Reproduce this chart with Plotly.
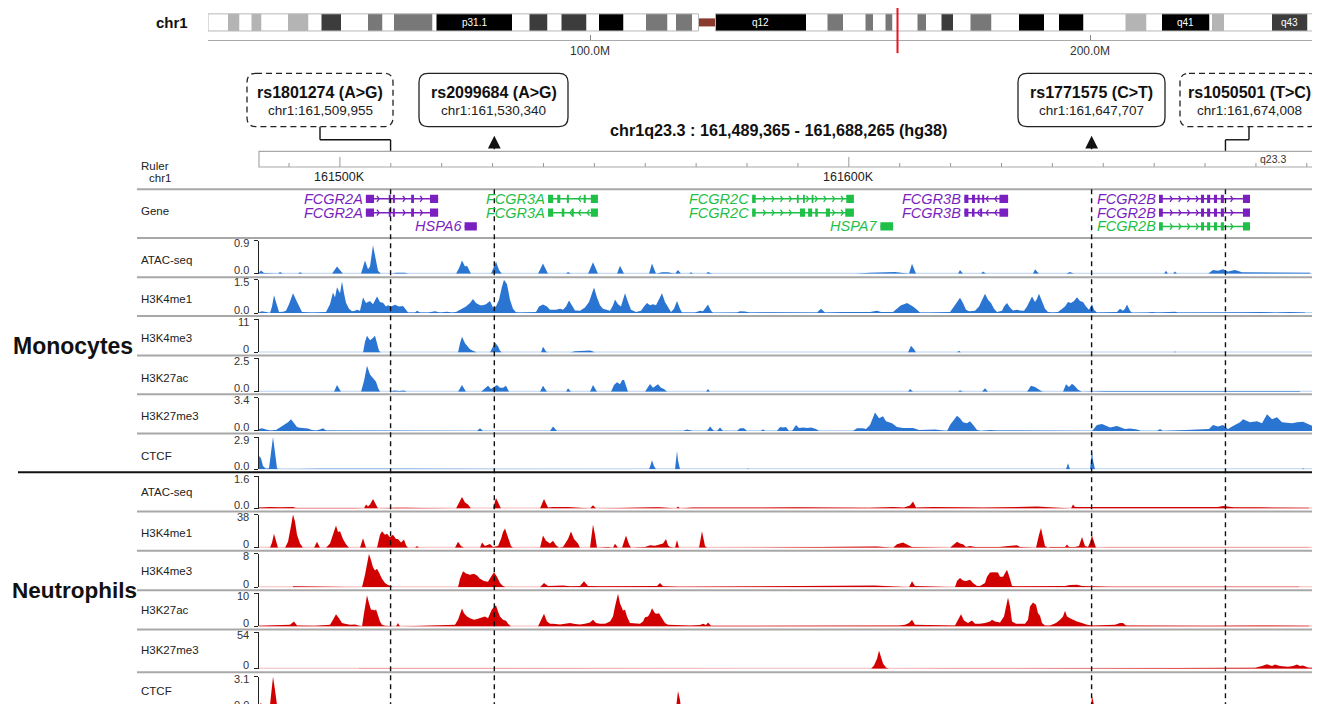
import plotly.graph_objects as go

W, H = 1320, 704
PAGE_OFF_X = 8                       # page offset of the figure (body margin)
PAGE_OFF_Y, PAGE_SY = 10.2, 0.9925   # vertical placement of the figure on the photographed page
FONT = "Liberation Sans, Arial, Helvetica, sans-serif"

# ============================ DATA ============================
# chr1 cytobands (hg38, Mb): name, start, end, stain
BANDS = [
    ("p36.11", 23.6, 27.6, "gneg"), ("p35.3", 27.6, 29.9, "gpos25"), ("p35.2", 29.9, 32.3, "gneg"),
    ("p35.1", 32.3, 34.3, "gpos25"), ("p34.3", 34.3, 39.6, "gneg"), ("p34.2", 39.6, 43.7, "gpos25"),
    ("p34.1", 43.7, 46.3, "gneg"), ("p33", 46.3, 50.2, "gpos75"), ("p32.3", 50.2, 55.6, "gneg"),
    ("p32.2", 55.6, 58.5, "gpos50"), ("p32.1", 58.5, 60.8, "gneg"), ("p31.3", 60.8, 68.5, "gpos50"),
    ("p31.2", 68.5, 69.3, "gneg"), ("p31.1", 69.3, 84.4, "gpos100"), ("p22.3", 84.4, 87.9, "gneg"),
    ("p22.2", 87.9, 91.5, "gpos75"), ("p22.1", 91.5, 94.3, "gneg"), ("p21.3", 94.3, 99.3, "gpos75"),
    ("p21.2", 99.3, 101.8, "gneg"), ("p21.1", 101.8, 106.7, "gpos100"), ("p13.3", 106.7, 111.2, "gneg"),
    ("p13.2", 111.2, 115.5, "gpos50"), ("p13.1", 115.5, 117.2, "gneg"), ("p12", 117.2, 120.4, "gpos50"),
    ("p11.2", 120.4, 121.7, "gneg"), ("p11.1", 121.7, 123.4, "acen"), ("q11", 123.4, 125.1, "acen"),
    ("q12", 125.1, 143.2, "gvar"), ("q21.1", 143.2, 147.5, "gneg"), ("q21.2", 147.5, 150.6, "gpos50"),
    ("q21.3", 150.6, 155.1, "gneg"), ("q22", 155.1, 156.6, "gpos50"), ("q23.1", 156.6, 159.1, "gneg"),
    ("q23.2", 159.1, 160.5, "gpos50"), ("q23.3", 160.5, 165.5, "gneg"), ("q24.1", 165.5, 167.2, "gpos50"),
    ("q24.2", 167.2, 170.3, "gneg"), ("q24.3", 170.3, 172.6, "gpos75"), ("q25.1", 172.6, 176.1, "gneg"),
    ("q25.2", 176.1, 180.3, "gpos50"), ("q25.3", 180.3, 185.8, "gneg"), ("q31.1", 185.8, 190.8, "gpos100"),
    ("q31.2", 190.8, 193.8, "gneg"), ("q31.3", 193.8, 198.7, "gpos100"), ("q32.1", 198.7, 207.1, "gneg"),
    ("q32.2", 207.1, 211.3, "gpos25"), ("q32.3", 211.3, 214.4, "gneg"), ("q41", 214.4, 223.9, "gpos100"),
    ("q42.11", 223.9, 224.4, "gneg"), ("q42.12", 224.4, 226.8, "gpos25"), ("q42.13", 226.8, 236.4, "gneg"),
    ("q43", 236.4, 243.5, "gpos75"), ("q44", 243.5, 248.9, "gneg"),
]
IDEO_VIEW_MB = [23.6, 247.6]
LOCUS_MB = 161.5
IDEO_TICKS_MB = [100, 200]
IDEO_TICK_TEXT = ["100.0M", "200.0M"]
LABELLED_BANDS = ["p31.1", "q12", "q41", "q43"]

REGION_TITLE = "chr1q23.3 : 161,489,365 - 161,688,265 (hg38)"
REGION_BAND = "q23.3"
WINDOW_START = 161_484_100      # first bin of the browser window (bp)
BIN_BP = 196.5                  # bin size of the coverage tracks (bp)
N_BINS = 1054
RULER_MAJOR = [161_500_000, 161_600_000]
RULER_MAJOR_TEXT = ["161500K", "161600K"]
RULER_MINOR = list(range(161_490_000, 161_690_001, 10_000))

SNP_IDS = ["rs1801274", "rs2099684", "rs1771575", "rs1050501"]
SNP_REF = ["A", "A", "C", "T"]
SNP_ALT = ["G", "G", "T", "C"]
SNP_POS = [161509955, 161530340, 161647707, 161674008]
SNP_KIND = ["proxy", "lead", "lead", "proxy"]

FCGR2A_EX = [(161505100, 161506700), (161509600, 161510000), (161510400, 161510800), (161514000, 161514550), (161517700, 161519300)]
FCGR2B_EX = [(161660950, 161661700), (161669200, 161669800), (161670400, 161671000), (161671750, 161672350), (161673100, 161673700), (161677450, 161678830)]
GENE_MODELS = [  # name, strand, row, source, exons
    ("FCGR2A", "+", 3, "violet", FCGR2A_EX),
    ("FCGR2A", "+", 2, "violet", FCGR2A_EX),
    ("HSPA6", "+", 1, "violet", [(161524500, 161526900)]),
    ("FCGR3A", "-", 3, "green", [(161540900, 161541900), (161542700, 161543300), (161544600, 161545000), (161547900, 161548300), (161549300, 161550700)]),
    ("FCGR3A", "-", 2, "green", [(161540900, 161541900), (161543600, 161544100), (161545600, 161545900), (161549300, 161550700)]),
    ("FCGR2C", "+", 3, "green", [(161581000, 161581700), (161589800, 161590100), (161591000, 161591300), (161592700, 161592900), (161599500, 161601000)]),
    ("FCGR2C", "+", 2, "green", [(161581000, 161581700), (161590400, 161591400), (161592000, 161592800), (161593400, 161593900), (161595500, 161596300), (161599300, 161601000)]),
    ("HSPA7", "+", 1, "green", [(161606200, 161608700)]),
    ("FCGR3B", "-", 3, "violet", [(161622700, 161623500), (161624200, 161624800), (161625300, 161625700), (161626200, 161626600), (161629600, 161631300)]),
    ("FCGR3B", "-", 2, "violet", [(161622700, 161623500), (161624200, 161624700), (161625800, 161626200), (161629600, 161631300)]),
    ("FCGR2B", "+", 3, "violet", FCGR2B_EX),
    ("FCGR2B", "+", 2, "violet", FCGR2B_EX),
    ("FCGR2B", "+", 1, "green", FCGR2B_EX),
]

CELL_TYPES = ["Monocytes", "Neutrophils"]
TRACK_NAMES = ["ATAC-seq", "H3K4me1", "H3K4me3", "H3K27ac", "H3K27me3", "CTCF"]
MONO_MAX = [0.9, 1.5, 11, 2.5, 3.4, 2.9]
NEUT_MAX = [1.6, 38, 8, 10, 54, 3.1]

# coverage: (bin index from WINDOW_START, value)
MONO_ATAC = [(0,.03),(2,.09),(5,.02),(19,0),(21,.05),(24,0),(39,0),(41,.04),(44,0),(73,0),(78,.2),(84,0),(102,0),(106,.36),(109,.12),(111,.2),(114,.77),(117,.3),(119,.08),(122,0),(133,0),(137,.03),(146,.03),(149,0),(197,0),(200,.15),(203,.36),(206,.2),(208,.22),(212,0),(232,0),(235,.2),(237,.33),(240,.1),(243,0),(279,0),(284,.28),(289,0),(307,0),(309,.05),(312,0),(329,0),(334,.31),(339,0),(358,0),(361,.22),(365,0),(390,0),(393,.28),(397,0),(403,.04),(409,.04),(416,0),(419,.1),(422,0),(430,0),(432,.04),(434,0),(447,0),(449,.05),(453,0),(596,0),(611,.03),(636,.05),(644,.02),(650,0),(653,.27),(657,0),(699,0),(701,.1),(704,0),(722,0),(724,.06),(727,0),(774,0),(776,.12),(780,0),(807,0),(811,.05),(815,0),(905,0),(907,.08),(909,0),(914,0),(916,.06),(918,0),(949,0),(954,.1),(959,.08),(964,.12),(969,.06),(976,.1),(983,.04),(996,.04),(1001,.05),(1011,.03),(1031,.04),(1051,.03)]
MONO_H3K4ME1 = [(0,.04),(3,.08),(7,.05),(11,0),(13,.3),(15,.81),(17,.5),(20,.05),(24,.06),(27,.1),(30,.4),(34,.89),(37,.6),(40,.3),(43,.05),(53,.03),(63,.04),(67,.05),(71,.4),(74,.93),(76,.7),(78,1.17),(81,.9),(83,1.42),(85,.9),(87,.47),(90,.2),(93,.08),(96,.1),(98,.15),(101,.1),(104,.7),(107,.45),(111,.55),(114,.4),(118,.75),(121,.5),(124,.47),(127,.3),(129,.35),(132,.3),(136,.38),(140,.3),(144,.32),(147,.15),(149,.03),(156,.03),(158,.1),(161,.03),(169,.03),(176,.08),(181,.03),(188,.06),(193,.03),(197,.05),(201,.15),(204,.2),(207,.3),(211,.45),(214,.63),(217,.45),(221,.35),(224,.35),(227,.4),(231,.55),(234,.25),(237,.3),(240,.6),(243,1.2),(245,1.5),(248,1.3),(251,.6),(254,.2),(257,.04),(261,.03),(271,.03),(277,.05),(280,.3),(284,.39),(288,.3),(291,.15),(297,.15),(301,.2),(304,.15),(307,.3),(310,.57),(313,.35),(316,.12),(321,.1),(326,.25),(330,.5),(333,.9),(335,1.16),(338,.7),(341,.35),(344,.2),(348,.15),(351,.1),(354,.35),(356,.61),(359,.4),(362,.3),(364,.6),(366,.9),(369,.5),(372,.15),(377,.05),(382,.1),(385,.3),(388,.46),(391,.35),(394,.4),(397,.35),(400,.6),(403,.9),(406,.5),(409,.25),(412,.05),(415,.2),(418,.54),(421,.2),(423,.03),(436,.03),(441,.1),(444,.08),(447,.25),(449,.39),(452,.1),(454,.02),(478,.03),(481,.08),(486,.07),(491,.03),(513,.04),(526,.04),(539,.05),(558,.03),(562,.2),(566,.03),(584,.05),(599,.05),(611,.05),(618,.1),(622,.05),(634,.05),(638,.2),(642,.35),(645,.4),(648,.46),(651,.38),(654,.3),(658,.15),(661,.03),(671,.03),(683,.03),(691,.05),(695,.3),(698,.5),(701,.69),(704,.45),(707,.15),(710,.08),(716,.1),(720,.3),(723,.55),(726,.87),(729,.6),(732,.45),(735,.2),(738,.05),(743,.1),(745,.3),(748,.45),(751,.25),(754,.12),(758,.15),(761,.12),(765,.1),(768,.3),(771,.6),(773,.75),(776,.5),(778,.65),(780,.87),(783,.5),(786,.2),(789,.05),(794,.03),(799,.05),(803,.2),(806,.3),(809,.5),(812,.45),(815,.55),(818,.72),(821,.55),(824,.5),(827,.3),(830,.15),(833,.4),(835,.15),(838,.03),(842,.03),(845,.05),(848,.02),(858,.05),(861,.2),(864,.1),(866,.2),(868,.39),(871,.1),(873,.02),(889,.03),(893,.05),(898,.03),(904,.05),(916,.06),(919,.03),(951,.02),(956,.04),(971,.03),(986,.04),(1001,.05),(1016,.03),(1031,.05),(1046,.03)]
MONO_H3K4ME3 = [(104,0),(106,3.5),(108,5.5),(111,4),(113,4.5),(116,5.5),(118,3),(120,.5),(122,0),(199,0),(201,3),(203,5.2),(206,3),(208,2.2),(211,1),(214,.5),(218,0),(231,0),(233,1.5),(236,3.3),(239,2),(241,.5),(243,0),(282,0),(284,1.9),(287,.3),(289,0),(311,0),(316,.4),(326,.5),(331,.6),(334,.3),(336,0),(649,0),(652,2.2),(655,1),(657,0),(698,0),(700,.5),(702,0),(915,0),(916,.4),(917,0)]
MONO_H3K27AC = [(75,0),(78,.5),(82,0),(102,0),(105,.8),(108,1.95),(111,1.3),(113,1.1),(115,.9),(117,.75),(119,.3),(121,0),(131,0),(135,.08),(140,.06),(145,.08),(148,0),(199,0),(203,.5),(207,0),(222,0),(226,.3),(229,.45),(232,.2),(235,.35),(238,.5),(241,.3),(244,.3),(247,.45),(250,0),(281,0),(284,.45),(288,0),(307,0),(309,.25),(312,0),(331,0),(334,.5),(338,0),(352,0),(355,.5),(358,.7),(361,.55),(363,.85),(365,.9),(367,.4),(369,0),(386,0),(391,.58),(394,.3),(396,.4),(399,.55),(402,.3),(405,.2),(408,0),(447,0),(449,.2),(451,0),(649,0),(651,.2),(654,0),(699,0),(701,.1),(704,0),(723,0),(726,.25),(729,0),(768,0),(772,.45),(776,.35),(781,.1),(784,0),(804,0),(807,.55),(810,.35),(813,.6),(816,.4),(819,.15),(823,0),(837,.05),(846,.05),(953,.05),(971,.05),(991,.06),(1011,.04),(1041,.05)]
MONO_H3K27ME3 = [(0,.2),(3,.27),(7,.15),(11,.05),(17,.1),(21,.35),(25,.6),(29,.9),(32,1.2),(35,.8),(38,.4),(41,.34),(45,.3),(49,.25),(53,.1),(57,.05),(61,.15),(64,.27),(67,.05),(87,.05),(131,.05),(218,0),(221,.27),(224,0),(291,0),(294,.45),(298,0),(424,0),(428,.15),(434,0),(448,0),(451,.45),(455,0),(458,0),(461,.35),(464,0),(478,0),(481,.27),(485,.27),(488,0),(502,0),(504,.17),(506,0),(518,0),(521,.4),(524,.35),(527,.4),(530,0),(533,0),(535,.3),(537,.6),(540,.3),(544,.35),(548,.3),(552,.35),(557,.2),(560,0),(594,0),(598,.27),(604,.27),(607,.2),(611,.6),(616,1.9),(620,1.3),(624,1.5),(627,1.0),(633,.8),(638,.4),(644,.3),(654,.3),(660,.1),(676,.15),(688,0),(691,.6),(698,1.55),(701,1.3),(704,.9),(708,.8),(711,1.0),(715,.5),(718,.1),(722,0),(731,.1),(738,.05),(833,0),(838,.6),(843,.7),(851,.35),(858,.5),(866,.2),(871,.25),(878,.15),(882,0),(898,0),(901,.2),(904,0),(934,.1),(950,.2),(954,.6),(959,.45),(964,.6),(969,.2),(974,.5),(981,.9),(984,1.2),(991,.9),(998,1.0),(1003,.8),(1008,1.7),(1013,1.2),(1018,1.4),(1023,.9),(1028,.85),(1033,.8),(1038,.9),(1044,.95),(1049,.7),(1054,.5)]
MONO_CTCF = [(0,1.2),(2,1.0),(4,.3),(7,.05),(10,.1),(12,1.5),(14,2.9),(16,1.5),(18,.1),(20,0),(60,.04),(150,.04),(390,0),(392,.5),(393,.8),(395,.3),(397,0),(416,0),(417,.8),(418,1.65),(419,.8),(421,0),(488,0),(489,.1),(490,0),(807,0),(809,.55),(811,0),(831,0),(832,.8),(833,1.65),(834,.8),(836,0),(1043,0),(1044,.08),(1046,0)]

NEUT_ATAC = [(0,.05),(11,.08),(21,.06),(31,.05),(34,.08),(37,.03),(57,.03),(59,.06),(62,.03),(81,.04),(96,.03),(105,0),(107,.2),(109,.1),(111,.2),(114,.48),(117,.15),(119,0),(136,.04),(146,.04),(197,0),(200,.25),(203,.57),(206,.3),(209,.2),(212,0),(234,0),(237,.52),(240,.2),(242,0),(281,0),(285,.48),(289,.05),(294,.08),(309,.08),(331,0),(334,.17),(337,0),(394,.06),(401,.06),(417,0),(419,.1),(421,0),(433,.05),(538,.06),(544,.06),(594,.04),(610,.04),(634,.08),(645,.05),(651,.15),(654,.35),(657,.05),(674,.08),(703,.06),(724,.05),(778,.1),(812,0),(814,.2),(816,.08),(858,.08),(866,.08),(959,.08),(964,.13),(970,.1),(975,.06),(1001,.06),(1028,.05),(1050,.04)]
NEUT_H3K4ME1 = [(11,0),(13,6),(15,16),(17,8),(19,0),(26,0),(29,7),(32,25),(34,38),(36,30),(38,15),(41,5),(44,0),(55,0),(58,7),(61,0),(67,0),(71,5),(74,15),(77,25.5),(79,18),(81,19),(84,10),(87,4),(90,0),(101,0),(104,11),(107,0),(118,0),(121,15),(123,19),(126,15),(128,16),(131,12),(134,15),(137,10),(139,10),(142,6),(145,9.5),(147,3),(149,0),(156,0),(158,2),(160,0),(196,0),(199,7),(202,2),(205,0),(221,0),(223,6),(226,2),(229,3),(231,4.5),(234,1),(239,2),(242,10),(244,18),(246,22),(249,12),(252,2),(254,0),(281,0),(284,14),(287,8),(291,5),(294,8),(297,3),(300,0),(304,1),(309,10),(312,18.6),(315,10),(319,5),(321,0),(331,0),(333,15),(334,26.6),(336,15),(338,0),(349,1),(354,0),(356,4.6),(359,0),(363,0),(367,14),(370,4),(372,0),(386,1),(391,3),(396,2.5),(401,4),(404,5),(407,10),(409,3),(411,1),(416,0),(418,9),(420,0),(440,0),(443,19),(446,2),(448,0),(561,1),(618,1.5),(634,0),(638,4),(644,6),(649,3),(653,1),(691,0),(694,3),(698,7),(701,5),(704,4),(707,1),(711,2),(716,1),(741,1),(749,2),(758,3),(761,1),(777,0),(780,15),(782,22.6),(784,12),(786,2),(789,0),(791,1),(801,1),(806,1),(808,3.8),(810,1),(816,1),(820,2),(823,12.4),(826,2),(829,1),(831,6),(833,14),(835,6),(837,0),(850,.5),(900,.5),(960,.6),(990,.5),(1020,.6),(1050,.5)]
NEUT_H3K4ME3 = [(34,.2),(81,.15),(103,0),(106,3),(108,6),(110,8),(112,6.5),(114,4.8),(116,4),(118,4.4),(120,3.5),(123,2),(126,1),(129,.5),(132,.3),(134,0),(199,0),(201,2),(204,3.8),(207,3.3),(211,3),(215,3.2),(218,2.8),(221,2),(225,1.5),(229,1.3),(232,2.5),(235,3.6),(238,2.5),(241,1),(244,.3),(247,0),(281,0),(285,1),(289,.3),(296,.3),(304,.4),(311,.2),(321,.3),(325,1.4),(329,.3),(341,.2),(361,.2),(381,.2),(398,.3),(401,1.0),(404,.2),(421,.1),(616,.4),(650,0),(653,1.4),(656,.3),(696,0),(698,1.5),(701,2.2),(704,1.6),(707,1.5),(711,1.8),(714,1),(718,.3),(721,.3),(726,1),(728,2.5),(731,3.5),(735,3.6),(739,3.5),(741,2.5),(744,2.5),(746,3.5),(748,4.2),(751,2),(753,.3),(757,.2),(771,.2),(806,.3),(811,.5),(818,.6),(823,.3),(850,.1),(950,.1),(1000,.15),(1040,.1)]
NEUT_H3K27AC = [(0,.2),(20,.3),(30,.5),(31,.5),(35,1.5),(38,.3),(56,.2),(66,.3),(71,.5),(74,2),(77,3.7),(80,2.5),(83,1),(86,.8),(91,.5),(96,.6),(103,0),(105,4),(107,8),(108,9.4),(110,7),(112,5),(114,5),(116,4.8),(117,5.2),(119,3),(121,1.5),(123,.5),(126,.2),(137,0),(139,1),(141,0),(181,.2),(196,.5),(199,2),(201,4),(203,5.4),(205,4),(208,3),(211,2.5),(215,2),(218,2.2),(222,2.5),(226,3),(229,2.5),(231,4),(233,5.2),(235,5.8),(237,6.4),(239,4.5),(241,3),(244,2),(247,1.7),(249,.8),(252,0),(279,0),(282,2),(285,3.8),(288,1.5),(291,.8),(294,.8),(301,.6),(306,.8),(311,1),(316,.7),(321,.6),(326,.8),(331,1.2),(334,2),(337,1),(341,.8),(346,.8),(351,1.5),(354,3),(356,6),(359,9.8),(361,7),(364,4.8),(366,5),(368,3),(371,1),(376,.8),(381,.8),(384,1.5),(386,2.8),(389,3),(391,4),(393,5.5),(396,4),(398,3.8),(400,4),(403,2.5),(406,1),(409,.5),(416,.4),(431,.3),(441,.4),(444,.8),(447,.4),(449,1.2),(452,.2),(480,.2),(520,.2),(570,.3),(620,.3),(640,.3),(646,.5),(650,1),(653,2),(656,.5),(696,.3),(699,2),(702,3.7),(705,1.8),(709,1),(713,1.8),(716,.8),(721,.8),(726,1),(731,1.5),(733,2),(736,1.5),(741,1.2),(745,3),(747,6),(749,8.7),(751,6),(753,1.5),(757,.8),(761,.8),(766,.8),(769,2),(771,6),(774,7.2),(777,6.5),(779,4),(781,3.2),(783,1),(786,.3),(791,.3),(797,1),(801,2),(804,3),(806,4.7),(808,3),(811,2.5),(814,2),(818,1.5),(823,1),(828,.5),(834,.3),(846,.3),(856,.5),(861,1),(864,1),(867,.3),(900,.2),(950,.2),(1000,.3),(1050,.2)]
NEUT_H3K27ME3 = [(100,.3),(300,.3),(612,0),(615,5),(618,15),(620,27),(622,18),(624,8),(627,2),(630,0),(700,.3),(981,.5),(996,1.5),(1003,4),(1008,6.6),(1013,4),(1016,6.5),(1021,4),(1029,3),(1034,4),(1038,6.5),(1041,4),(1044,5),(1049,2),(1054,1.5)]
NEUT_CTCF = [(0,.3),(2,.5),(4,.1),(9,0),(11,.3),(13,2),(14,3.1),(16,1.8),(18,.3),(20,0),(105,0),(106,.3),(107,0),(359,.1),(392,0),(394,.4),(396,0),(417,0),(418,.8),(419,1.7),(421,.8),(422,0),(832,0),(833,1.2),(835,.3),(836,0)]

MONO_TRACKS = [MONO_ATAC, MONO_H3K4ME1, MONO_H3K4ME3, MONO_H3K27AC, MONO_H3K27ME3, MONO_CTCF]
NEUT_TRACKS = [NEUT_ATAC, NEUT_H3K4ME1, NEUT_H3K4ME3, NEUT_H3K27AC, NEUT_H3K27ME3, NEUT_CTCF]

# ============================ LAYOUT / STYLE ============================
# layout numbers below are pixels of the photographed page
def px(x):
    return (x - PAGE_OFF_X) / W


def py(y):
    return 1 - ((y - PAGE_OFF_Y) / PAGE_SY) / H


STAIN = {"gneg": "#ffffff", "gpos25": "#b4b4b4", "gpos50": "#787878", "gpos75": "#3c3c3c",
         "gpos100": "#000000", "gvar": "#000000", "acen": "#8c3a2e"}
GENE_COLORS = {"violet": "#7a1fc0", "green": "#1fbf48"}
CELL_COLORS = ["#2a74d2", "#d10000"]
BASE_COLORS = ["#bcd3f0", "#f4bcbc"]
TEXT = "#222222"

DATA_X0, DATA_X1 = 259, 1313
IDEO_X0, IDEO_X1 = 208, 1328
MONO_DOM = [(241, 274), (280, 313), (319, 352), (358, 391), (397, 430), (436, 468)]
NEUT_DOM = [(475, 507), (513, 546), (552, 585), (591, 624), (630, 666), (674, 705)]
MONO_LABEL_Y = [260.5, 299.5, 338, 377, 415.5, 454.5]
NEUT_LABEL_Y = [491, 531, 569, 608, 647, 688]
SEPARATORS = [190, 238.5, 277.5, 316, 355, 393.5, 432.5, 510, 549, 588, 627, 669.5]
SNP_BOX_PX = [(247, 393), (419, 568), (1018, 1165), (1180, 1318)]
BOX_TOP, BOX_BOT = 75, 128

fig = go.Figure()
shapes = []
ann = []


def label(x, y, text, size, color=TEXT, xa="center", ya="middle", xref="paper", yref="paper", **kw):
    ann.append(dict(x=x, y=y, xref=xref, yref=yref, text=text, showarrow=False, xanchor=xa, yanchor=ya,
                    font=dict(size=size, color=color, family=FONT), **kw))


def gx(p):
    """page pixel column -> genomic coordinate of the browser axis (for connectors)"""
    return WINDOW_START + (p - DATA_X0) * BIN_BP


# ---------------- ideogram ----------------
fig.add_trace(go.Scatter(x=[IDEO_VIEW_MB[0]], y=[0], mode="markers", marker=dict(opacity=0),
                         xaxis="x", yaxis="y", hoverinfo="skip"))
acen = [b for b in BANDS if b[3] == "acen"]
for name, s, e, stain in BANDS:
    if e <= IDEO_VIEW_MB[0]:
        continue
    s = max(s, IDEO_VIEW_MB[0])
    y0, y1 = (20.5, 28.5) if stain == "acen" else (16, 33)
    shapes.append(dict(type="rect", xref="x", yref="paper", x0=s, x1=e, y0=py(y1), y1=py(y0),
                       fillcolor=STAIN[stain], line=dict(width=0), layer="above"))
    if name in LABELLED_BANDS:
        label((s + e) / 2, py(24.5), name, 10, color="white", xref="x")
for a0, a1 in [(IDEO_VIEW_MB[0], acen[0][1]), (acen[-1][2], BANDS[-1][2])]:
    shapes.append(dict(type="rect", xref="x", yref="paper", x0=a0, x1=a1, y0=py(33), y1=py(16),
                       line=dict(color="#b8b8b8", width=1), fillcolor="rgba(0,0,0,0)", layer="above"))
shapes.append(dict(type="line", xref="x", yref="paper", x0=LOCUS_MB, x1=LOCUS_MB, y0=py(55), y1=py(10),
                   line=dict(color="#e8141e", width=2), layer="above"))
label(px(190), py(25), "<b>chr1</b>", 15, color="#111", xa="right")

# ---------------- SNP call-outs ----------------
for i, (sid, ref, alt, pos, kind) in enumerate(zip(SNP_IDS, SNP_REF, SNP_ALT, SNP_POS, SNP_KIND)):
    x0, x1 = SNP_BOX_PX[i]
    r = 9

    def P(x, y):
        return f"{px(x):.6f},{py(y):.6f}"

    y0, y1 = BOX_TOP, BOX_BOT
    path = (f"M {P(x0 + r, y0)} L {P(x1 - r, y0)} Q {P(x1, y0)} {P(x1, y0 + r)} L {P(x1, y1 - r)} "
            f"Q {P(x1, y1)} {P(x1 - r, y1)} L {P(x0 + r, y1)} Q {P(x0, y1)} {P(x0, y1 - r)} "
            f"L {P(x0, y0 + r)} Q {P(x0, y0)} {P(x0 + r, y0)} Z")
    shapes.append(dict(type="path", path=path, xref="paper", yref="paper",
                       line=dict(color="#222", width=1.3, dash="6px,4px" if kind == "proxy" else "solid"),
                       fillcolor="white", layer="above"))
    cx = (x0 + x1) / 2
    label(px(cx), py(94), f"<b>{sid} ({ref}>{alt})</b>", 16, color="#111")
    label(px(cx), py(112), f"chr1:{pos:,}", 13.5)
    if kind == "proxy":
        lk = dict(color="#111", width=1.4)
        shapes.append(dict(type="line", xref="x2", yref="paper", x0=gx(cx), x1=gx(cx), y0=py(BOX_BOT), y1=py(141), line=lk))
        shapes.append(dict(type="line", xref="x2", yref="paper", x0=gx(cx), x1=pos, y0=py(141), y1=py(141), line=lk))
        shapes.append(dict(type="line", xref="x2", yref="paper", x0=pos, x1=pos, y0=py(141), y1=py(152.5), line=lk))
    else:
        ann.append(dict(x=pos, y=py(137), xref="x2", yref="paper", ax=0, ay=15, text="", showarrow=True,
                        arrowhead=2, arrowsize=1.7, arrowwidth=1.5, arrowcolor="#111", standoff=0))

label(px(778), py(131), f"<b>{REGION_TITLE}</b>", 16.2, color="#111")

# ---------------- ruler ----------------
shapes.append(dict(type="rect", xref="paper", yref="paper", x0=px(DATA_X0), x1=px(DATA_X1), y0=py(168), y1=py(152.5),
                   line=dict(color="#a8a8a8", width=1.2), fillcolor="white", layer="above"))
for t in RULER_MINOR:
    top = 158 if t in RULER_MAJOR else 164
    shapes.append(dict(type="line", xref="x2", yref="paper", x0=t, x1=t, y0=py(168), y1=py(top),
                       line=dict(color="#999", width=1), layer="above"))
for t, lab in zip(RULER_MAJOR, RULER_MAJOR_TEXT):
    label(t, py(178), lab, 12.5, xref="x2")
label(px(1258), py(160.5), REGION_BAND, 10.5, color="#333", xa="left")
label(px(139), py(167), "Ruler", 11.5, xa="left")
label(px(173), py(179), "chr1", 11.5, xa="right")

# ---------------- genes ----------------
label(px(139), py(212), "Gene", 11.5, xa="left")
for name, strand, row, src, exons in GENE_MODELS:
    col = GENE_COLORS[src]
    s, e = exons[0][0], exons[-1][1]
    fig.add_trace(go.Scatter(x=[s, e], y=[row, row], mode="lines", line=dict(color=col, width=1.5),
                             xaxis="x2", yaxis="y2", hoverinfo="skip"))
    cxs, cys = [], []
    p = s + 900
    while p < e - 300:
        if not any(a - 350 <= p <= b + 350 for a, b in exons):
            d = -430 if strand == "+" else 430
            cxs += [p + d, p, p + d, None]
            cys += [row + 0.22, row, row - 0.22, None]
        p += 1700
    fig.add_trace(go.Scatter(x=cxs, y=cys, mode="lines", line=dict(color=col, width=1.3),
                             xaxis="x2", yaxis="y2", hoverinfo="skip"))
    for a, b in exons:
        shapes.append(dict(type="rect", xref="x2", yref="y2", x0=a, x1=max(b, a + 350), y0=row - 0.3, y1=row + 0.3,
                           fillcolor=col, line=dict(width=0), layer="above"))
    label(s, row, f"<i>{name}</i>", 14.5, color=col, xa="right", xref="x2", yref="y2", xshift=-1)

# ---------------- coverage tracks ----------------
layout_axes = {}
ax_i = 3
for ci, (doms, maxes, tracks, label_y) in enumerate([(MONO_DOM, MONO_MAX, MONO_TRACKS, MONO_LABEL_Y),
                                                       (NEUT_DOM, NEUT_MAX, NEUT_TRACKS, NEUT_LABEL_Y)]):
    for ti, (dom, vmax, pairs) in enumerate(zip(doms, maxes, tracks)):
        top, bot = dom
        yname = f"y{ax_i}"
        if float(vmax) == int(vmax):
            fmt = lambda v: f"{v:g}"
        else:
            fmt = lambda v: f"{v:.1f}"
        layout_axes[f"yaxis{ax_i}"] = dict(
            domain=[py(bot), py(top)], anchor="x2", range=[0, vmax], showgrid=False, zeroline=False,
            showline=True, linecolor="#222", linewidth=1, ticks="outside", ticklen=4, tickcolor="#222",
            tickvals=[0, vmax], showticklabels=False, fixedrange=True)
        # axis value labels sit just inside the bracket, as in the browser
        label(px(251), py(top + 2.5), fmt(vmax), 11, color="#333", xa="right")
        label(px(251), py(bot - 3.5), fmt(0), 11, color="#333", xa="right")
        fig.add_trace(go.Scatter(x=[WINDOW_START, WINDOW_START + N_BINS * BIN_BP], y=[0, 0], mode="lines",
                                 line=dict(color=BASE_COLORS[ci], width=2), xaxis="x2", yaxis=yname, hoverinfo="skip"))
        fig.add_trace(go.Scatter(x=[WINDOW_START + b * BIN_BP for b, _ in pairs], y=[v for _, v in pairs],
                                 mode="lines", fill="tozeroy", fillcolor=CELL_COLORS[ci],
                                 line=dict(color=CELL_COLORS[ci], width=0), xaxis="x2", yaxis=yname,
                                 hoverinfo="skip"))
        label(px(139), py(label_y[ti]), TRACK_NAMES[ti], 11.5, xa="left")
        ax_i += 1

label(px(72.5), py(346), f"<b>{CELL_TYPES[0]}</b>", 23, color="#111")
label(px(74.5), py(588), f"<b>{CELL_TYPES[1]}</b>", 22.5, color="#111")

# separators
for yy in SEPARATORS:
    shapes.append(dict(type="line", xref="paper", yref="paper", x0=px(137), x1=px(DATA_X1), y0=py(yy), y1=py(yy),
                       line=dict(color="#a8a8a8", width=2), layer="above"))
shapes.append(dict(type="line", xref="paper", yref="paper", x0=px(18), x1=1, y0=py(471), y1=py(471),
                   line=dict(color="#111", width=2), layer="above"))

# SNP guide lines
for pos in SNP_POS:
    shapes.append(dict(type="line", xref="x2", yref="paper", x0=pos, x1=pos, y0=py(190), y1=0,
                       line=dict(color="#111", width=1.4, dash="5px,4px"), layer="above"))

fig.update_layout(
    width=W, height=H, margin=dict(l=0, r=0, t=0, b=0), paper_bgcolor="white", plot_bgcolor="rgba(0,0,0,0)",
    showlegend=False, hovermode=False, font=dict(family=FONT),
    xaxis=dict(domain=[px(IDEO_X0), px(IDEO_X1)], range=IDEO_VIEW_MB, anchor="y", showgrid=False, zeroline=False,
               showline=True, linecolor="#aaaaaa", linewidth=1, ticks="inside", ticklen=5, tickcolor="#888",
               tickvals=IDEO_TICKS_MB, ticktext=IDEO_TICK_TEXT, tickfont=dict(size=12, color="#333", family=FONT),
               fixedrange=True),
    yaxis=dict(domain=[py(42), py(15)], range=[0, 1], anchor="x", visible=False, fixedrange=True),
    xaxis2=dict(domain=[px(DATA_X0), px(DATA_X1)], range=[WINDOW_START, WINDOW_START + N_BINS * BIN_BP],
                anchor="y2", visible=False, fixedrange=True),
    yaxis2=dict(domain=[py(238), py(190)], range=[0.2, 3.7], anchor="x2", visible=False, fixedrange=True),
    shapes=shapes, annotations=ann,
)
fig.update_layout(**layout_axes)
fig.write_html("out.html")
